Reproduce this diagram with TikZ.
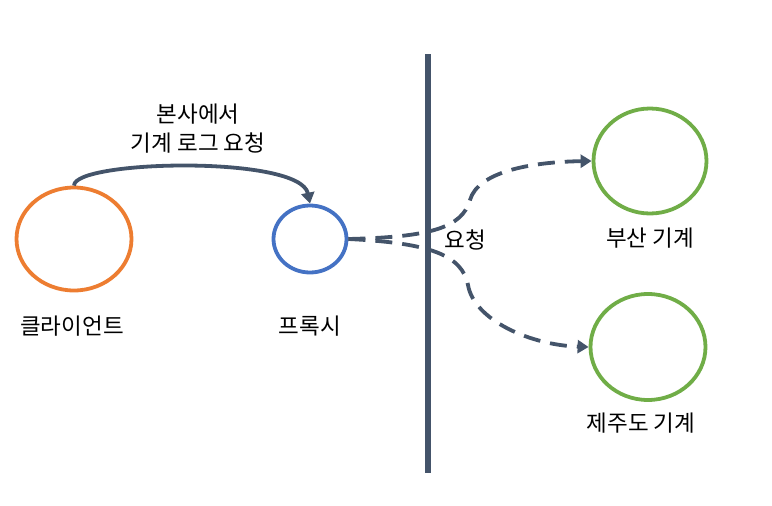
\documentclass[tikz,border=0pt]{standalone}
\usepackage{fontspec}
\setmainfont{Noto Sans CJK KR}
\usetikzlibrary{shapes.geometric,arrows.meta}
\definecolor{cOrange}{HTML}{ED7D31}
\definecolor{cBlue}{HTML}{4472C4}
\definecolor{cGreen}{HTML}{70AD47}
\definecolor{cDark}{HTML}{44546A}
\tikzset{
  circ/.style={ellipse, draw, line width=3.8pt, inner sep=0pt},
  lbl/.style={font=\fontsize{22.5}{29}\selectfont, text=black, align=center},
  conn/.style={draw=cDark, line width=3.8pt, -{Triangle[length=11pt,width=13pt]}},
  dconn/.style={conn, dash pattern=on 17pt off 10pt},
}
\begin{document}
\begin{tikzpicture}[x=1pt,y=-1pt]
\useasboundingbox (0,0) rectangle (772,506);
\node[circ, draw=cOrange, minimum width=115pt, minimum height=103pt] (client) at (74,239) {};
\node[circ, draw=cBlue, minimum width=73pt, minimum height=67pt] (proxy) at (310,239) {};
\node[circ, draw=cGreen, minimum width=113pt, minimum height=105pt] (busan) at (650,161) {};
\node[circ, draw=cGreen, minimum width=115pt, minimum height=106pt] (jeju) at (648,347) {};
\coordinate (wtop) at (428,54);
\coordinate (wbot) at (428,473);
\draw[cDark, line width=6pt] (wtop) -- (wbot);
\node[lbl] (lclient) at (72,326) {클라이언트};
\node[lbl] (lproxy) at (310,326) {프록시};
\node[lbl] (lbusan) at (650,238) {부산 기계};
\node[lbl] (ljeju) at (641,423) {제주도 기계};
\node[lbl] (lreq) at (465,240) {요청};
\node[lbl] (ltop) at (198,129) {본사에서\\기계 로그 요청};
\draw[conn] (client.north) .. controls (74,160) and (300,155) .. (proxy.north);
\draw[dconn] (proxy.east) .. controls (430,237) and (462,228) .. (470,200) .. controls (478,172) and (530,162) .. (busan.west);
\draw[dconn] (proxy.east) .. controls (430,243) and (462,255) .. (468,285) .. controls (474,320) and (530,345) .. (jeju.west);
\end{tikzpicture}
\end{document}
